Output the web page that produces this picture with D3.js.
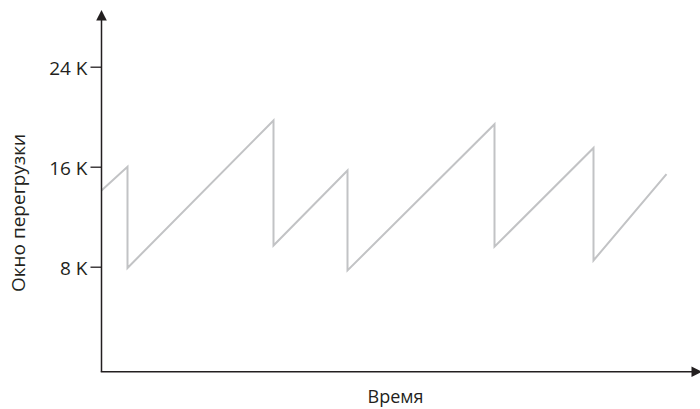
<!DOCTYPE html>
<html>
<head>
<meta charset="utf-8">
<script src="https://cdn.jsdelivr.net/npm/d3@7"></script>
<style>
  body { margin: 0; background: #fff; }
  text { font-family: "Open Sans", sans-serif; fill: #231f20; }
</style>
</head>
<body>
<div id="chart"></div>
<script>
// sawtooth of the congestion window
var time = [0, 2.6, 2.6, 17.2, 17.2, 24.6, 24.6, 39.3, 39.3, 49.2, 49.2, 56.5];
var cwnd = [14100, 16000, 7900, 19700, 9700, 15700, 7700, 19400, 9600, 17500, 8500, 15400];
var yTicks = [8000, 16000, 24000];
var xLabel = "Время";
var yLabel = "Окно перегрузки";

var width = 700, height = 409;
var axisColor = "#231f20";

var svg = d3.select("#chart").append("svg")
  .attr("width", width)
  .attr("height", height);

// setup scales
var xScale = d3.scaleLinear().domain([0, 60]).range([101.5, 701.5]);
var yScale = d3.scaleLinear().domain([0, 24000]).range([366.7, 66.7]);

var originX = 101.5, originY = 371.7;

// y ticks
var yAxis = d3.axisLeft(yScale)
  .tickValues(yTicks)
  .tickSize(11)
  .tickPadding(3)
  .tickFormat(function(d) { return (d / 1000) + " K"; });

var gy = svg.append("g")
  .attr("transform", "translate(" + originX + ",0)")
  .call(yAxis);
gy.select(".domain").remove();
gy.selectAll(".tick line").attr("stroke", axisColor).attr("stroke-width", 1.3);
gy.selectAll(".tick text")
  .attr("dy", "0.43em")
  .style("font-size", "19px")
  .style("font-family", "'Open Sans', sans-serif")
  .attr("fill", axisColor);

// the data line
var data = time.map(function(t, i) { return { t: t, v: cwnd[i] }; });
var line = d3.line()
  .x(function(d) { return xScale(d.t); })
  .y(function(d) { return yScale(d.v); });

svg.append("path")
  .datum(data)
  .attr("d", line)
  .attr("fill", "none")
  .attr("stroke", "#c2c3c5")
  .attr("stroke-width", 2)
  .attr("stroke-linejoin", "miter");

// axes with arrows
svg.append("line")
  .attr("x1", originX).attr("y1", originY)
  .attr("x2", originX).attr("y2", 18)
  .attr("stroke", axisColor).attr("stroke-width", 1.5);
svg.append("line")
  .attr("x1", originX - 0.75).attr("y1", originY)
  .attr("x2", 694).attr("y2", originY)
  .attr("stroke", axisColor).attr("stroke-width", 1.5);

svg.append("path")
  .attr("d", "M" + originX + ",10 L" + (originX - 5.3) + ",20.5 L" + (originX + 5.3) + ",20.5 Z")
  .attr("fill", axisColor);
svg.append("path")
  .attr("d", "M702," + originY + " L691.5," + (originY - 5.3) + " L691.5," + (originY + 5.3) + " Z")
  .attr("fill", axisColor);

// axis titles
svg.append("text")
  .attr("x", 395.5)
  .attr("y", 403)
  .attr("text-anchor", "middle")
  .style("font-size", "18px")
  .text(xLabel);

svg.append("text")
  .attr("transform", "translate(25,213) rotate(-90)")
  .attr("text-anchor", "middle")
  .style("font-size", "19px")
  .text(yLabel);
</script>
</body>
</html>
